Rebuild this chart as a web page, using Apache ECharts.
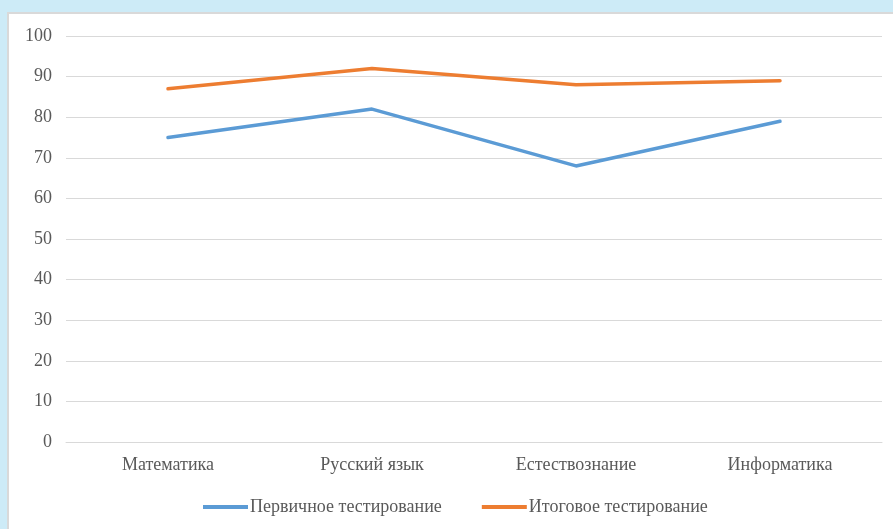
<!DOCTYPE html>
<html>
<head>
<meta charset="utf-8">
<script src="https://cdn.jsdelivr.net/npm/echarts@6/dist/echarts.min.js"></script>
<style>
  html, body { margin: 0; padding: 0; width: 893px; height: 529px; background: #cdebf7; overflow: hidden; }
  #panel { position: absolute; left: 7px; top: 12px; right: 0; bottom: 0; background: #fff; border-left: 2px solid #d9d9d9; border-top: 2px solid #d9d9d9; }
  #chart { position: absolute; left: 0; top: 0; width: 893px; height: 529px; }
</style>
</head>
<body>
<div id="panel"></div>
<div id="chart"></div>
<script>
// предметы
var subjects = ['Математика', 'Русский язык', 'Естествознание', 'Информатика']
var seriesNames = ['Первичное тестирование', 'Итоговое тестирование']
var firstTest = [75, 82, 68, 79]
var finalTest = [87, 92, 88, 89]

var font = '"Liberation Serif", "Times New Roman", serif'
var textColor = '#595959'

var chart = echarts.init(document.getElementById('chart'))
var option = {
  animation: false,
  color: ['#5b9bd5', '#ed7d31'],
  grid: {
    left: 66,
    right: 11,
    top: 36,
    bottom: 87
  },
  legend: {
    data: seriesNames,
    bottom: 8,
    left: 198,
    icon: 'rect',
    itemWidth: 45,
    itemHeight: 4,
    itemGap: 40,
    textStyle: { color: textColor, fontFamily: font, fontSize: 18, padding: [0, 0, 0, -3] }
  },
  xAxis: {
    type: 'category',
    data: subjects,
    boundaryGap: true,
    axisLine: { lineStyle: { color: '#d9d9d9', width: 1 } },
    axisTick: { show: false },
    axisLabel: { color: textColor, fontFamily: font, fontSize: 18, margin: 14 }
  },
  yAxis: {
    type: 'value',
    min: 0,
    max: 100,
    interval: 10,
    axisLine: { show: false },
    axisTick: { show: false },
    axisLabel: { color: textColor, fontFamily: font, fontSize: 18, margin: 14 },
    splitLine: { lineStyle: { color: '#d9d9d9', width: 1 } }
  },
  series: [
    {
      name: seriesNames[0],
      type: 'line',
      data: firstTest,
      showSymbol: false,
      symbol: 'none',
      lineStyle: { width: 3.5, cap: 'round' }
    },
    {
      name: seriesNames[1],
      type: 'line',
      data: finalTest,
      showSymbol: false,
      symbol: 'none',
      lineStyle: { width: 3.5, cap: 'round' }
    }
  ]
}
chart.setOption(option)
</script>
</body>
</html>
